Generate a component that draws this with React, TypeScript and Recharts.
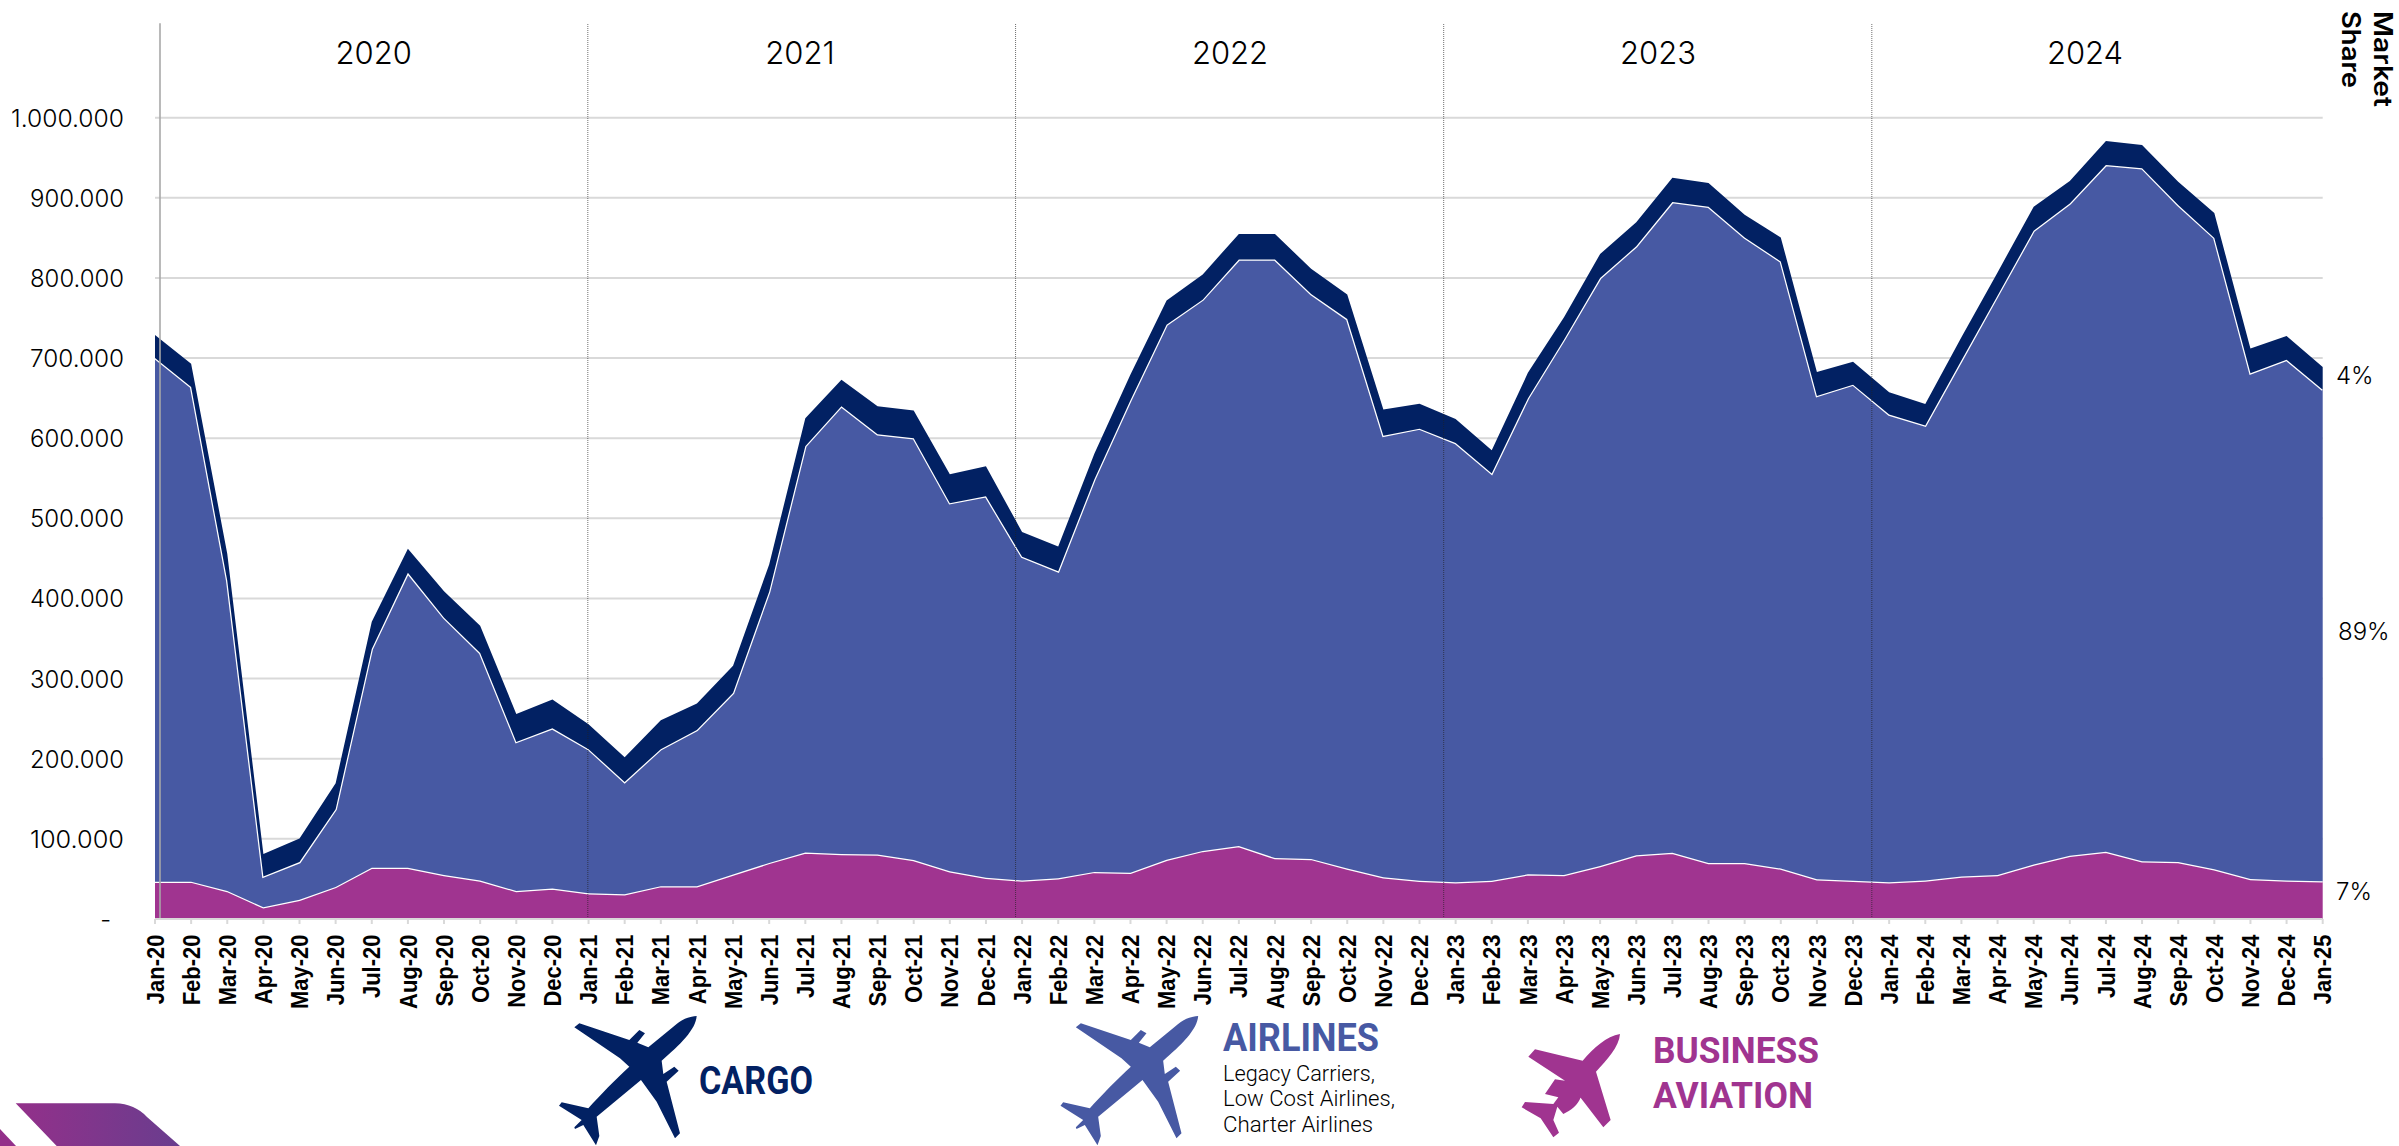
import React from "react";
import { AreaChart, Area, XAxis, YAxis, CartesianGrid, ReferenceLine } from "recharts";

const MONTHS = ["Jan","Feb","Mar","Apr","May","Jun","Jul","Aug","Sep","Oct","Nov","Dec"];
const YEARS = ["20","21","22","23","24"];
const monthLabels: string[] = [...YEARS.flatMap((y) => MONTHS.map((m) => `${m}-${y}`)), "Jan-25"];

// values in thousands
const business = [
  46.6,46.6,35,14.6,24,40,64,64,55,48,35,38,
  32,31,41,41,55.5,70,83,81,80.5,73.6,59.5,51.5,
  48,51,58.8,57.6,74,85,91,76,75,63,52,47.7,
  46,47.8,55.7,55,66,79.6,82.7,69.8,69.8,63,49.6,47.8,
  46,48,53,55,68,79,84,72,71,62,50,48,
  47,
];
const airlines = [
  653.4,617.4,387,38.4,47,97,273,368,321,284,186,200,
  180,140,171,195,226.5,338.5,507,559,524.5,526.4,459.5,476,
  404,383,489.8,589.9,667.7,688,732,747,705,685.7,551,564.3,
  548,508.2,594,668,734,759.9,812,819.2,780.8,757.6,603.2,619.1,
  583.6,568,644,723,791,814,857,865,820,788,631,650,
  613.6,
];
const cargo = [
  29,29,34,28,29.5,32.5,34,30,33,34,35,36,
  31,31,36,33,34,34,35,33,35,34.5,36,37.5,
  31,31,31.9,32,30.3,31.5,32,32,31.5,30.8,33,31,
  30,29,31.9,28,30,30.1,30.3,29.5,28.4,30,30,28.7,
  27.9,26.6,29,29,30,28,30,29,29,31,31,29.7,
  28.4,
];
const yTicks = [0,100000,200000,300000,400000,500000,600000,700000,800000,900000,1000000];
const yearLabels = ["2020","2021","2022","2023","2024"];
const yearCenters = [373.7,800,1230,1658,2085];
const yearLines = [11.98,23.82,35.67,47.52];
const shares = [{t:"4%",x:2336,y:384},{t:"89%",x:2338,y:640},{t:"7%",x:2336,y:900}];

const rows = monthLabels.map((m, i) => ({
  i, month: m,
  business: business[i] * 1000,
  airlines: airlines[i] * 1000,
  cargo: cargo[i] * 1000,
}));

const NAVY = "#022163";
const BLUE = "#4759a3";
const PURPLE = "#a03490";
const SANS = "Inter, sans-serif";

const fmt = (v: number) => (v === 0 ? "-" : v.toLocaleString("de-DE"));

const YTick = (p: any) => {
  const v = p.payload.value;
  return (
    <text x={v === 0 ? 111 : 124} y={p.y} dy={v === 0 ? 9 : 9} textAnchor="end" fontFamily={SANS} fontWeight={300} fontSize={24}
      textLength={v === 0 ? undefined : v === 1000000 ? 113 : 94} lengthAdjust="spacingAndGlyphs" fill="#000">
      {fmt(v)}
    </text>
  );
};
const XTick = (p: any) => {
  const y = p.y + 10.5;
  return (
    <text x={0} y={0} transform={`translate(${p.x},${y}) rotate(-90) scale(1,1.08)`} dy={8} textAnchor="end"
      fontFamily="Liberation Sans, Arial, sans-serif" fontWeight={700} fontSize={22} fill="#000">
      {monthLabels[p.payload.value]}
    </text>
  );
};

const PLANE = "M470,48 C468,88 420,135 365,182 L370,222 L403,200 L416,212 L380,245 L420,400 L405,415 L350,305 L303,240 L170,350 L178,408 L168,436 L130,375 L105,387 L103,382 L125,360 L57,317 L65,307 L145,325 C180,285 225,240 268,200 L240,175 L103,82 L118,70 L268,120 L298,90 L315,100 L292,128 L325,142 L400,80 C425,58 445,50 470,48 Z";
const BIZ = "M360,72 C358,110 320,150 288,185 L332,330 L310,352 L228,245 L242,262 C235,285 212,302 190,312 L172,290 L160,330 L177,368 L160,382 L122,325 L65,292 L75,276 L160,282 L175,262 L135,252 L165,208 L195,212 L85,140 L105,118 L248,152 C280,115 320,78 360,72 Z";

export default function App() {
  return (
    <div style={{ position: "absolute", left: 0, top: 0, width: 2399, height: 1146, overflow: "hidden", background: "#fff" }}>
      <AreaChart width={2399} height={1146} data={rows} stackOffset="none"
        margin={{ top: 23.2, right: 76.3, bottom: 0, left: 0 }}>
        <CartesianGrid horizontal vertical={false} stroke="#d9d9d9" strokeWidth={2} horizontalValues={yTicks} />
        <XAxis dataKey="i" type="number" domain={[0, 60]} ticks={rows.map((r) => r.i)} interval={0} height={227}
          tick={<XTick />} tickSize={5} tickMargin={0} tickLine={{ stroke: "#d9d9d9", strokeWidth: 2 }}
          axisLine={{ stroke: "#d9d9d9", strokeWidth: 2 }} />
        <YAxis type="number" domain={[0, 1118000]} ticks={yTicks} width={155} tick={<YTick />} tickLine={false} axisLine={false} allowDataOverflow />
        <Area type="linear" dataKey="business" stackId="a" fill={PURPLE} fillOpacity={1} stroke="#fff" strokeWidth={2.5} dot={false} activeDot={false} isAnimationActive={false} />
        <Area type="linear" dataKey="airlines" stackId="a" fill={BLUE} fillOpacity={1} stroke="#fff" strokeWidth={2.5} dot={false} activeDot={false} isAnimationActive={false} />
        <Area type="linear" dataKey="cargo" stackId="a" fill={NAVY} fillOpacity={1} stroke="none" dot={false} activeDot={false} isAnimationActive={false} />
        <ReferenceLine x={0.138} stroke="#a8a8a8" strokeOpacity={0.8} strokeWidth={2} />
        {yearLines.map((x) => (
          <ReferenceLine key={x} x={x} stroke="#222" strokeOpacity={0.65} strokeWidth={1} strokeDasharray="1 1" />
        ))}
      </AreaChart>
      <svg width={2399} height={1146} style={{ position: "absolute", left: 0, top: 0, pointerEvents: "none" }}>
        <defs>
          <linearGradient id="logo" x1="0" x2="1" y1="0" y2="0">
            <stop offset="0" stopColor="#93308a" />
            <stop offset="1" stopColor="#693d8e" />
          </linearGradient>
        </defs>
        {yearLabels.map((y, i) => (
          <text key={y} x={yearCenters[i]} y={63.5} textAnchor="middle" fontFamily={SANS} fontWeight={300} fontSize={31} fill="#000">{y}</text>
        ))}
        {shares.map((s) => (
          <text key={s.t} x={s.x} y={s.y} fontFamily={SANS} fontWeight={300} fontSize={24} fill="#000">{s.t}</text>
        ))}
        <text transform="translate(2374,11) rotate(90)" fontFamily={SANS} fontWeight={600} fontSize={25} fill="#000" textLength={96} lengthAdjust="spacingAndGlyphs">Market</text>
        <text transform="translate(2342,11) rotate(90)" fontFamily={SANS} fontWeight={600} fontSize={25} fill="#000" textLength={77} lengthAdjust="spacingAndGlyphs">Share</text>

        <g transform="translate(540,1000) scale(0.3333)"><path d={PLANE} fill={NAVY} /></g>
        <g transform="translate(1041.5,1000) scale(0.3333)"><path d={PLANE} fill={BLUE} /></g>
        <g transform="translate(1500,1010) scale(0.3333)"><path d={BIZ} fill={PURPLE} /></g>

        <text x={699} y={1094.3} fontFamily="Roboto, sans-serif" fontWeight={700} fontSize={38} fill={NAVY} textLength={114} lengthAdjust="spacingAndGlyphs">CARGO</text>
        <text x={1223} y={1051} fontFamily="Roboto, sans-serif" fontWeight={700} fontSize={38} fill={BLUE} textLength={156} lengthAdjust="spacingAndGlyphs">AIRLINES</text>
        <text x={1223} y={1080.7} fontFamily="Roboto, sans-serif" fontWeight={300} fontSize={22} fill="#000" textLength={152} lengthAdjust="spacingAndGlyphs">Legacy Carriers,</text>
        <text x={1223} y={1106} fontFamily="Roboto, sans-serif" fontWeight={300} fontSize={22} fill="#000" textLength={172} lengthAdjust="spacingAndGlyphs">Low Cost Airlines,</text>
        <text x={1223} y={1131.7} fontFamily="Roboto, sans-serif" fontWeight={300} fontSize={22} fill="#000" textLength={150} lengthAdjust="spacingAndGlyphs">Charter Airlines</text>
        <text x={1653} y={1063.3} fontFamily="Roboto, sans-serif" fontWeight={700} fontSize={36} fill={PURPLE} textLength={166} lengthAdjust="spacingAndGlyphs">BUSINESS</text>
        <text x={1653} y={1108.3} fontFamily="Roboto, sans-serif" fontWeight={700} fontSize={36} fill={PURPLE} textLength={160} lengthAdjust="spacingAndGlyphs">AVIATION</text>

        <path d="M15.7,1103.3 L115,1103.3 Q135,1104 147,1117 L180,1146 L56.7,1146 Z" fill="url(#logo)" />
        <path d="M0,1129 L16,1146 L0,1146 Z" fill="#93308a" />
      </svg>
    </div>
  );
}
